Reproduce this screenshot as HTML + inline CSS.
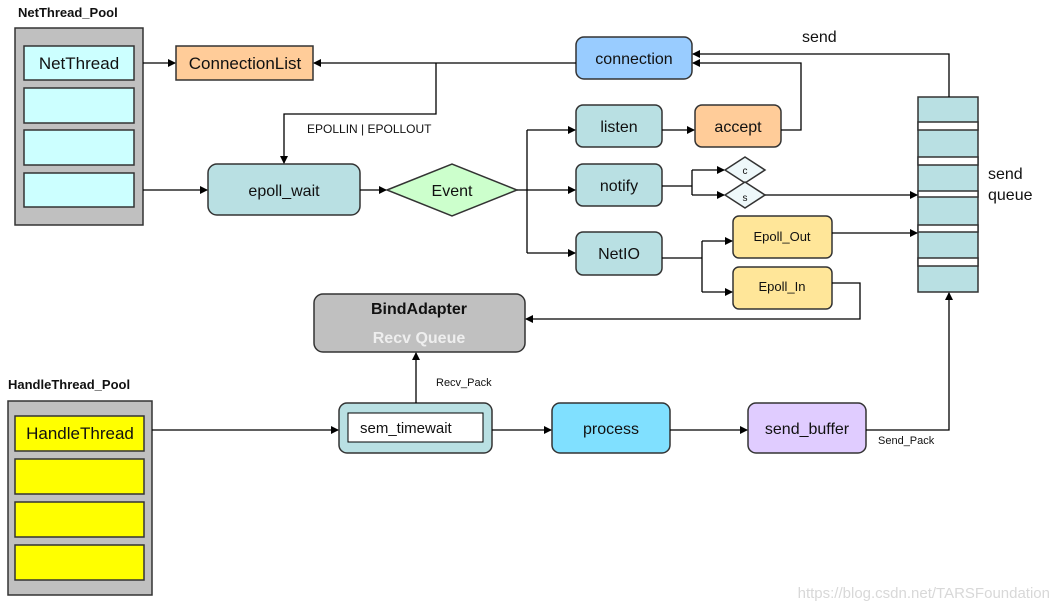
<!DOCTYPE html>
<html><head><meta charset="utf-8"><style>
html,body{margin:0;padding:0;background:#fff;}
svg{display:block;font-family:"Liberation Sans",Arial,sans-serif;}
</style></head><body>
<svg width="1058" height="610" viewBox="0 0 1058 610" xmlns="http://www.w3.org/2000/svg">
<defs>
<marker id="a" markerWidth="8" markerHeight="8" refX="7" refY="4" orient="auto" markerUnits="userSpaceOnUse">
<path d="M0,0 L8,4 L0,8 z" fill="#000"/></marker>
</defs>
<g stroke="#333" stroke-width="1.5">
<!-- NetThread pool -->
<rect x="15" y="28" width="128" height="197" fill="#C0C0C0"/>
<rect x="24" y="46" width="110" height="34" fill="#CCFFFF"/>
<rect x="24" y="88" width="110" height="35" fill="#CCFFFF"/>
<rect x="24" y="130" width="110" height="35" fill="#CCFFFF"/>
<rect x="24" y="173" width="110" height="34" fill="#CCFFFF"/>
<rect x="176" y="46" width="137" height="34" fill="#FFCC99"/>
<rect x="576" y="37" width="116" height="42" rx="8" fill="#99CCFF"/>
<rect x="208" y="164" width="152" height="51" rx="9" fill="#B9E0E3"/>
<polygon points="387,190 452,164 517,190 452,216" fill="#CCFFCC"/>
<rect x="576" y="105" width="86" height="42" rx="7" fill="#B9E0E3"/>
<rect x="695" y="105" width="86" height="42" rx="7" fill="#FFCC99"/>
<rect x="576" y="164" width="86" height="42" rx="7" fill="#B9E0E3"/>
<rect x="576" y="232" width="86" height="43" rx="7" fill="#B9E0E3"/>
<polygon points="725,170 745,157 765,170 745,183" fill="#EEF8FA"/>
<polygon points="725,195 745,182 765,195 745,208" fill="#EEF8FA"/>
<rect x="733" y="216" width="99" height="42" rx="6" fill="#FFE699"/>
<rect x="733" y="267" width="99" height="42" rx="6" fill="#FFE699"/>
<rect x="918" y="97" width="60" height="195" fill="#B9E0E3"/>
<rect x="918" y="122" width="60" height="8" fill="#fff"/>
<rect x="918" y="157" width="60" height="8" fill="#fff"/>
<rect x="918" y="191" width="60" height="6" fill="#fff"/>
<rect x="918" y="225" width="60" height="7" fill="#fff"/>
<rect x="918" y="258" width="60" height="8" fill="#fff"/>
<rect x="314" y="294" width="211" height="58" rx="9" fill="#C0C0C0"/>
<rect x="8" y="401" width="144" height="194" fill="#C0C0C0"/>
<rect x="15" y="416" width="129" height="35" fill="#FFFF00"/>
<rect x="15" y="459" width="129" height="35" fill="#FFFF00"/>
<rect x="15" y="502" width="129" height="35" fill="#FFFF00"/>
<rect x="15" y="545" width="129" height="35" fill="#FFFF00"/>
<rect x="339" y="403" width="153" height="50" rx="8" fill="#B9E0E3"/>
<rect x="348" y="413" width="135" height="29" fill="#fff" stroke="#000" stroke-width="1"/>
<rect x="552" y="403" width="118" height="50" rx="8" fill="#80E0FF"/>
<rect x="748" y="403" width="118" height="50" rx="8" fill="#E0CCFF"/>
</g>
<g stroke="#000" stroke-width="1.3" fill="none">
<line x1="143" y1="63" x2="175" y2="63" marker-end="url(#a)"/>
<line x1="576" y1="63" x2="314" y2="63" marker-end="url(#a)"/>
<polyline points="436,63 436,114 284,114 284,163" marker-end="url(#a)"/>
<line x1="143" y1="190" x2="207" y2="190" marker-end="url(#a)"/>
<line x1="360" y1="190" x2="386" y2="190" marker-end="url(#a)"/>
<line x1="517" y1="190" x2="575" y2="190" marker-end="url(#a)"/>
<polyline points="527,130 527,253"/>
<line x1="527" y1="130" x2="575" y2="130" marker-end="url(#a)"/>
<line x1="527" y1="253" x2="575" y2="253" marker-end="url(#a)"/>
<line x1="662" y1="130" x2="694" y2="130" marker-end="url(#a)"/>
<polyline points="781,130 801,130 801,63 693,63" marker-end="url(#a)"/>
<polyline points="949,97 949,54 693,54" marker-end="url(#a)"/>
<polyline points="662,186 692,186"/>
<polyline points="692,170 692,195"/>
<line x1="692" y1="170" x2="724" y2="170" marker-end="url(#a)"/>
<line x1="692" y1="195" x2="724" y2="195" marker-end="url(#a)"/>
<line x1="765" y1="195" x2="917" y2="195" marker-end="url(#a)"/>
<line x1="662" y1="258" x2="702" y2="258"/>
<line x1="702" y1="241" x2="702" y2="292"/>
<line x1="702" y1="241" x2="732" y2="241" marker-end="url(#a)"/>
<line x1="702" y1="292" x2="732" y2="292" marker-end="url(#a)"/>
<line x1="832" y1="233" x2="917" y2="233" marker-end="url(#a)"/>
<polyline points="832,283 860,283 860,319 526,319" marker-end="url(#a)"/>
<line x1="152" y1="430" x2="338" y2="430" marker-end="url(#a)"/>
<line x1="416" y1="403" x2="416" y2="353" marker-end="url(#a)"/>
<line x1="492" y1="430" x2="551" y2="430" marker-end="url(#a)"/>
<line x1="670" y1="430" x2="747" y2="430" marker-end="url(#a)"/>
<polyline points="866,430 949,430 949,293" marker-end="url(#a)"/>
</g>
<g fill="#111">
<text x="18" y="17" font-size="13" font-weight="bold">NetThread_Pool</text>
<text x="79" y="69" font-size="17" text-anchor="middle">NetThread</text>
<text x="245" y="69" font-size="17" text-anchor="middle">ConnectionList</text>
<text x="634" y="64" font-size="16" text-anchor="middle">connection</text>
<text x="307" y="133" font-size="12">EPOLLIN | EPOLLOUT</text>
<text x="284" y="196" font-size="16" text-anchor="middle">epoll_wait</text>
<text x="452" y="196" font-size="16" text-anchor="middle">Event</text>
<text x="619" y="132" font-size="16" text-anchor="middle">listen</text>
<text x="738" y="132" font-size="16" text-anchor="middle">accept</text>
<text x="619" y="191" font-size="16" text-anchor="middle">notify</text>
<text x="619" y="259" font-size="16" text-anchor="middle">NetIO</text>
<text x="745" y="174" font-size="10" text-anchor="middle">c</text>
<text x="745" y="201" font-size="10" text-anchor="middle">s</text>
<text x="782" y="241" font-size="13" text-anchor="middle">Epoll_Out</text>
<text x="782" y="291" font-size="13" text-anchor="middle">Epoll_In</text>
<text x="802" y="42" font-size="16">send</text>
<text x="988" y="179" font-size="16">send</text>
<text x="988" y="200" font-size="16">queue</text>
<text x="419" y="314" font-size="16" font-weight="bold" text-anchor="middle">BindAdapter</text>
<text x="419" y="343" font-size="16" font-weight="bold" text-anchor="middle" fill="#eee">Recv Queue</text>
<text x="8" y="389" font-size="13" font-weight="bold">HandleThread_Pool</text>
<text x="80" y="439" font-size="17" text-anchor="middle">HandleThread</text>
<text x="360" y="433" font-size="15">sem_timewait</text>
<text x="436" y="386" font-size="11">Recv_Pack</text>
<text x="611" y="434" font-size="16" text-anchor="middle">process</text>
<text x="807" y="434" font-size="16" text-anchor="middle">send_buffer</text>
<text x="878" y="444" font-size="11">Send_Pack</text>
<text x="1050" y="598" font-size="15" text-anchor="end" fill="#d8d8d8">https://blog.csdn.net/TARSFoundation</text>
</g>
</svg>
</body></html>
